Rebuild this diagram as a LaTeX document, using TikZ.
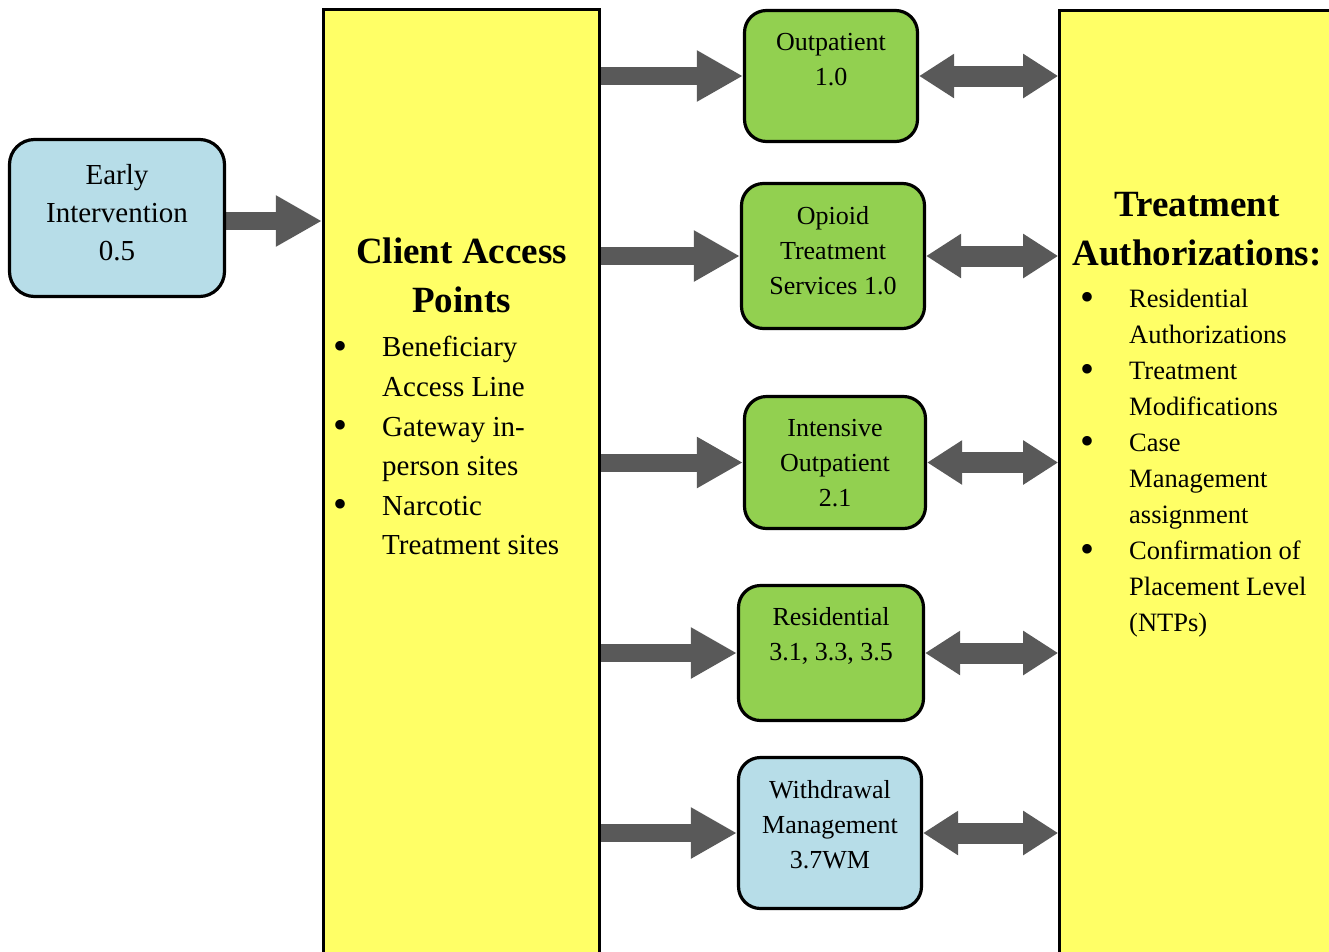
\documentclass[tikz,border=0pt]{standalone}
\usepackage{fontspec}
\setmainfont{Liberation Serif}
\usetikzlibrary{arrows.meta,backgrounds}
\definecolor{cyel}{HTML}{FFFF66}
\definecolor{cgreen}{HTML}{92D050}
\definecolor{cblue}{HTML}{B7DDE8}
\definecolor{carrow}{HTML}{595959}
\newcommand\mybul{\makebox[10pt][c]{\raisebox{-0.09em}{\fontsize{40}{40}\selectfont\textbullet}}}
\begin{document}
\begin{tikzpicture}[x=1pt,y=-1pt,
  bigbox/.style={draw=black,line width=3.2pt,fill=cyel,inner sep=0pt},
  rbox/.style={draw=black,line width=3.2pt,rounded corners=22pt,inner sep=0pt},
  lbl/.style={align=center,inner sep=0pt,font=\fontsize{26}{35}\selectfont},
  lblbig/.style={align=center,inner sep=0pt,font=\fontsize{29}{38}\selectfont},
  ttl/.style={align=center,inner sep=0pt,font=\bfseries\fontsize{37}{49}\selectfont},
  fatarrow/.style={line width=18pt,draw=carrow,-{Triangle[width=48pt,length=46pt]}},
  dblarrow/.style={line width=21pt,draw=carrow,{Triangle[width=42pt,length=35pt]}-{Triangle[width=42pt,length=35pt]}}
]
\useasboundingbox (0,0) rectangle (1329,951);
% big panels
\node[bigbox,minimum width=276pt,minimum height=970pt] (ca) at (461.5,494.75) {};
\node[bigbox,minimum width=340pt,minimum height=970pt] (ta) at (1229.75,495.25) {};
% early intervention
\node[rbox,fill=cblue,minimum width=215pt,minimum height=157pt,rounded corners=25pt] (ei) at (117,218) {};
\node[lblbig] (eit) at (117,213) {Early\\Intervention\\0.5};
% service boxes
\node[rbox,fill=cgreen,minimum width=173pt,minimum height=131pt] (op) at (831,76) {};
\node[lbl] (opt) at (831,59.5) {Outpatient\\1.0};
\node[rbox,fill=cgreen,minimum width=183pt,minimum height=145pt] (ot) at (833,256) {};
\node[lbl] (ott) at (833,251) {Opioid\\Treatment\\Services 1.0};
\node[rbox,fill=cgreen,minimum width=181pt,minimum height=132pt] (io) at (835,462.5) {};
\node[lbl] (iot) at (835,463) {Intensive\\Outpatient\\2.1};
\node[rbox,fill=cgreen,minimum width=185pt,minimum height=135pt] (rs) at (831,653) {};
\node[lbl] (rst) at (831,636) {Residential\\3.1, 3.3, 3.5};
\node[rbox,fill=cblue,minimum width=183pt,minimum height=151pt] (wm) at (830,833) {};
\node[lbl] (wmt) at (830,825) {Withdrawal\\Management\\3.7WM};
% client access text
\node[ttl] (cat) at (461.5,275.5) {Client Access\\Points};
\node[anchor=north west,inner sep=0pt,font=\fontsize{29}{39.6}\selectfont] (cab) at (335,329) {%
\begin{tabular}{@{}l@{\hspace{37pt}}l@{}}
\mybul & Beneficiary\\
 & Access Line\\
\mybul & Gateway in-\\
 & person sites\\
\mybul & Narcotic\\
 & Treatment sites
\end{tabular}};
% treatment authorizations text
\node[ttl] (tat) at (1197,229.5) {Treatment\\Authorizations:};
\node[anchor=north west,inner sep=0pt,font=\fontsize{26.5}{36}\selectfont] (tab) at (1082,282.5) {%
\begin{tabular}{@{}l@{\hspace{37pt}}l@{}}
\mybul & Residential\\
 & Authorizations\\
\mybul & Treatment\\
 & Modifications\\
\mybul & Case\\
 & Management\\
 & assignment\\
\mybul & Confirmation of\\
 & Placement Level\\
 & (NTPs)
\end{tabular}};
% connectors
\begin{pgfonlayer}{background}
\draw[fatarrow] ([yshift=-3pt]ei.east) -- ([yshift=-3pt]ei.east -| ca.west);
\foreach \b in {op,ot,io,rs,wm}{
  \draw[fatarrow] (\b.west -| ca.east) -- (\b.west);
  \draw[dblarrow] (\b.east) -- (\b.east -| ta.west);
}
\end{pgfonlayer}
\end{tikzpicture}
\end{document}
